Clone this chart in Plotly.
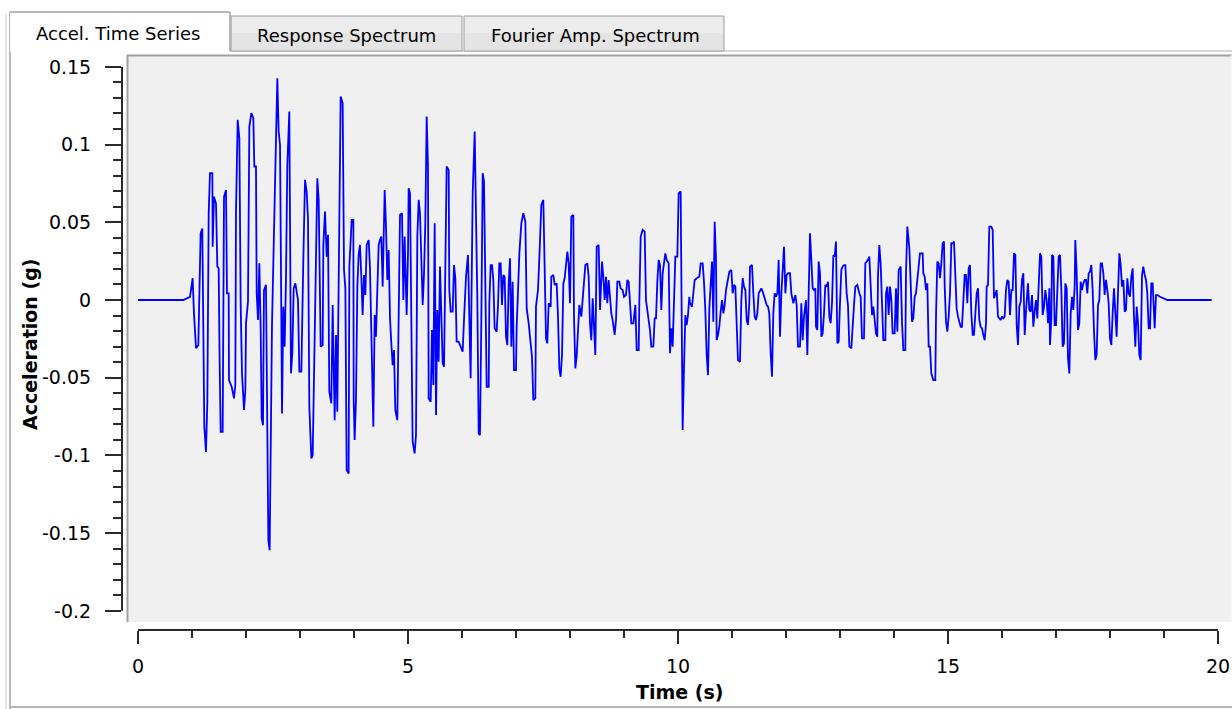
import plotly.graph_objects as go

# ---------------- data ----------------
t_seg1 = [0, 0.84, 0.963, 1.012, 1.037, 1.074, 1.117, 1.136, 1.160, 1.191,
          1.210, 1.228, 1.259, 1.284, 1.309, 1.333, 1.377, 1.383, 1.407, 1.444,
          1.469, 1.494, 1.512, 1.531, 1.568, 1.574, 1.593, 1.630, 1.648, 1.679,
          1.685, 1.735, 1.778, 1.802, 1.815, 1.846, 1.877, 1.901, 1.926, 1.963,
          1.988, 2.000, 2.037, 2.062, 2.099, 2.136, 2.154, 2.185, 2.198, 2.222,
          2.247, 2.272, 2.290, 2.315, 2.333, 2.370, 2.383, 2.414, 2.438, 2.457,
          2.481, 2.519, 2.556, 2.580, 2.605, 2.630, 2.654, 2.667, 2.691, 2.716,
          2.741, 2.765, 2.802, 2.815, 2.833, 2.858, 2.883, 2.914, 2.938, 2.963,
          2.988, 3.025, 3.062, 3.093, 3.123, 3.148, 3.173, 3.210, 3.235, 3.272,
          3.296, 3.321, 3.346, 3.383, 3.420, 3.432, 3.463, 3.494, 3.519, 3.543,
          3.580, 3.605, 3.642, 3.667, 3.691, 3.716, 3.728, 3.753, 3.790, 3.815,
          3.840, 3.864, 3.901, 3.914]
a_seg1 = [0, 0, 0.002, 0.014, -0.009, -0.031, -0.029, 0.0075, 0.043, 0.046,
          -0.011, -0.0815, -0.0977, -0.0655, 0.0558, 0.0816, 0.0816, 0.0343, 0.0665, 0.0622,
          0.0215, 0.0204, -0.0408, -0.0848, -0.0848, -0.0129, 0.0665, 0.0708, 0.0043, 0.0043,
          -0.0515, -0.0558, -0.0633, -0.0547, 0.0569, 0.1159, 0.1041, -0.0021, -0.0472, -0.0708,
          -0.058, -0.015, -0.001, 0.1116, 0.1202, 0.117, 0.0859, 0.0859, 0.0043, -0.0129,
          0.0236, -0.0193, -0.0762, -0.0805, 0.0064, 0.0097, -0.0365, -0.1545, -0.161, -0.0912,
          -0.0172, 0.0451, 0.0998, 0.1427, 0.1084, 0.0998, -0.0086, -0.073, -0.0043, -0.03,
          0.015, 0.0869, 0.1213, 0.0419, -0.0472, -0.0343, 0.0075, 0.0107, 0.0043, 0,
          -0.0461, -0.0461, 0.0268, 0.0773, 0.0698, 0.0526, -0.0687, -0.102, -0.0998, -0.0258,
          0.0182, 0.0783, 0.0644, -0.03, -0.029, 0.0354, 0.0569, 0.0279, 0.0419, -0.059,
          -0.0665, -0.0032, -0.0773, -0.0225, -0.0719, -0.0011, 0.0708, 0.1309, 0.1266, 0.0193,
          0.0075, -0.1095, -0.1116, 0.0215]

t_seg2 = [3.957, 3.988, 3.994, 4.012, 4.037, 4.062, 4.086, 4.111, 4.136, 4.160,
          4.185, 4.210, 4.235, 4.272, 4.296, 4.321, 4.358, 4.383, 4.407, 4.432,
          4.457, 4.481, 4.506, 4.531, 4.556, 4.568, 4.593, 4.617, 4.642, 4.667,
          4.691, 4.716, 4.741, 4.765, 4.802, 4.827, 4.852, 4.889, 4.914, 4.938,
          4.975, 5.000, 5.012, 5.037, 5.062, 5.086, 5.123, 5.148, 5.173, 5.198,
          5.222, 5.247, 5.272, 5.296, 5.321, 5.346, 5.370, 5.383, 5.420, 5.444,
          5.469, 5.494, 5.519, 5.543, 5.568, 5.593, 5.617, 5.642, 5.667, 5.691,
          5.716, 5.753, 5.765, 5.790, 5.827, 5.852, 5.877, 5.901, 5.938, 5.975,
          6.012, 6.037, 6.074, 6.111, 6.136, 6.160, 6.173, 6.198, 6.235, 6.259,
          6.284, 6.309, 6.333, 6.358, 6.383, 6.407, 6.432, 6.457, 6.494, 6.506,
          6.531, 6.556, 6.580, 6.605, 6.642, 6.667, 6.691, 6.716, 6.741, 6.765,
          6.790, 6.815, 6.840, 6.864, 6.889, 6.914, 6.938, 6.963, 7.000, 7.012,
          7.037, 7.062]
a_seg2 = [0.0515, 0.0515, -0.0644, -0.0901, -0.0633, 0.0086, 0.029, 0.0354, 0.015, -0.0097,
          0.0161, 0.0032, 0.0354, 0.0386, 0.0204, -0.0225, -0.0816, -0.0097, -0.0236, 0.0064,
          0.0354, 0.0386, 0.0408, 0.0086, 0.0408, 0.0708, 0.0472, 0.0129, 0.0322, -0.0118,
          -0.0279, -0.0419, -0.0322, -0.0708, -0.0773, 0.0129, 0.0547, 0.0558, 0, 0.0408,
          -0.0097, 0.03, 0.0719, 0.0687, -0.0043, -0.0912, -0.0987, -0.0869, 0.0408, 0.0644,
          0.0558, 0.0172, -0.0032, 0.0161, 0.0504, 0.118, 0.0859, -0.0633, -0.0655, -0.0193,
          -0.0547, 0.0494, -0.074, -0.0064, -0.0397, 0.0215, -0.0032, -0.0408, -0.0429, 0.044,
          0.0859, 0.0837, 0.0064, -0.0075, -0.0075, 0.0225, 0.014, -0.0268, -0.0268, -0.03,
          -0.0333, -0.0129, 0.015, 0.029, -0.0043, -0.0504, -0.0064, 0.0687, 0.1084, 0.0622,
          0, -0.0859, -0.0869, -0.0129, 0.0816, 0.0762, 0.0021, -0.0558, -0.0558, -0.0021,
          0.0225, 0.0225, 0.0129, -0.0182, -0.0204, -0.0032, 0.0236, 0.0236, -0.0032, 0.0161,
          0.015, -0.0236, -0.029, 0.0107, 0.0268, -0.03, 0.0118, -0.0451, -0.0451, -0.0172,
          0.0054, 0.03]

t_seg3 = [7.099, 7.136, 7.173, 7.198, 7.235, 7.259, 7.296, 7.321, 7.358, 7.370,
          7.407, 7.432, 7.469, 7.506, 7.531, 7.556, 7.580, 7.605, 7.642, 7.654,
          7.691, 7.716, 7.753, 7.778, 7.802, 7.827, 7.852, 7.877, 7.901, 7.951,
          7.975, 8.000, 8.025, 8.062, 8.074, 8.099, 8.123, 8.148, 8.173, 8.210,
          8.247, 8.284, 8.321, 8.346, 8.370, 8.395, 8.420, 8.444, 8.469, 8.494,
          8.531, 8.556, 8.593, 8.617, 8.642, 8.667, 8.691, 8.716, 8.741, 8.765,
          8.790, 8.827, 8.852, 8.877, 8.914, 8.938, 8.975, 9.000, 9.037, 9.062,
          9.086, 9.111, 9.136, 9.173, 9.210, 9.235, 9.272, 9.284, 9.309, 9.346,
          9.383, 9.407, 9.444, 9.481, 9.506, 9.543, 9.568, 9.593, 9.617, 9.642,
          9.667, 9.691, 9.716, 9.741, 9.765, 9.790, 9.827, 9.852, 9.877, 9.901,
          9.926, 9.951, 9.988, 10.012, 10.049, 10.074, 10.086, 10.111, 10.136, 10.160,
          10.185, 10.210]
a_seg3 = [0.0494, 0.0558, 0.0504, -0.0054, -0.015, -0.0236, -0.0365, -0.0644, -0.0633, -0.0043,
          0.0064, 0.0268, 0.0612, 0.0644, 0.0129, -0.0247, -0.0279, -0.0021, -0.0043, 0.015,
          0.0161, 0.0097, 0.0107, -0.0107, -0.044, -0.0494, -0.0354, 0.0107, 0.014, 0.0311,
          0.0236, -0.0021, 0.0537, 0.0547, -0.0107, -0.044, -0.0365, -0.0172, -0.0032, -0.0107,
          0.0043, 0.0225, 0.0236, 0.015, -0.015, -0.0258, 0.0011, -0.015, -0.0354, 0.0343,
          0.0354, -0.0064, 0.0247, 0.015, 0, 0.015, -0.0021, 0.0129, 0.0021, -0.0086,
          -0.0129, -0.0225, -0.0129, 0.0118, 0.0118, 0.0075, 0.0064, 0.0021, 0.0032, 0.0129,
          0.0118, -0.0032, -0.015, -0.015, -0.0032, -0.0322, -0.0322, -0.0011, 0.0408, 0.0451,
          0.044, 0, -0.0086, -0.0193, -0.03, -0.03, -0.0118, -0.0118, 0.0118, 0.0258,
          0.0225, -0.0064, 0.0172, 0.0258, 0.03, 0.0258, 0.0236, -0.0343, -0.0182, -0.03,
          -0.0021, 0.0279, 0.0279, 0.0687, 0.0698, -0.0343, -0.0837, -0.044, -0.0097, -0.0161,
          -0.0097, 0.0021]

t_seg4 = [10.222, 10.259, 10.284, 10.309, 10.346, 10.395, 10.420, 10.457, 10.481, 10.506,
          10.531, 10.556, 10.580, 10.605, 10.630, 10.654, 10.679, 10.704, 10.716, 10.741,
          10.765, 10.790, 10.815, 10.840, 10.864, 10.889, 10.926, 10.951, 10.988, 11.012,
          11.037, 11.062, 11.086, 11.111, 11.148, 11.173, 11.198, 11.222, 11.247, 11.272,
          11.296, 11.321, 11.333, 11.370, 11.395, 11.420, 11.444, 11.469, 11.494, 11.519,
          11.543, 11.568, 11.593, 11.617, 11.642, 11.667, 11.691, 11.716, 11.741, 11.765,
          11.790, 11.815, 11.840, 11.864, 11.889, 11.914, 11.938, 11.963, 11.988, 12.012,
          12.037, 12.074, 12.099, 12.136, 12.173, 12.198, 12.222, 12.259, 12.284, 12.309,
          12.333, 12.370, 12.395, 12.420, 12.444, 12.469, 12.494, 12.519, 12.543, 12.556,
          12.580, 12.605, 12.630, 12.654, 12.679, 12.704, 12.728, 12.753, 12.778, 12.802,
          12.827, 12.852, 12.877, 12.901, 12.926, 12.951, 12.975, 13.000, 13.025, 13.049,
          13.074, 13.099, 13.123, 13.148, 13.173, 13.210, 13.235, 13.259, 13.284, 13.321,
          13.358]
a_seg4 = [-0.0021, -0.0043, 0.0043, 0.0129, 0.014, 0.015, 0.0236, 0.0236, 0.0118, -0.0064,
          -0.0354, -0.0483, -0.0054, 0.015, 0.0247, -0.014, 0.0504, 0.0258, -0.0258, -0.0225,
          -0.0172, -0.0075, 0, -0.0086, -0.0032, 0.0064, 0.015, 0.0182, 0.0193, 0.0043,
          0.0097, 0.0086, -0.015, -0.0386, -0.0397, 0, 0.014, 0.0086, 0.0064, -0.0129,
          -0.0161, -0.0021, 0.0215, 0.0225, 0.0043, -0.0107, -0.0129, -0.0086, 0.0043, 0.0064,
          0.0075, 0.0054, 0.0021, 0, -0.0032, -0.0043, -0.0086, -0.0343, -0.0494, -0.0086,
          0.0043, 0.0021, 0.0043, 0.0258, -0.0236, 0.0043, 0.0236, 0.0343, 0.0043, 0.0161,
          0.0172, 0.0172, 0.0043, -0.0021, 0.0032, -0.0032, -0.03, -0.03, -0.0021, -0.0258,
          -0.0107, 0, -0.0354, 0.0064, 0.0429, 0.0258, 0.0075, 0.0064, 0.0075, -0.0172,
          -0.0193, 0.0247, 0.0172, -0.0236, -0.0215, -0.0086, 0.0097, 0.0086, 0.0118, -0.0107,
          -0.015, -0.0021, 0.029, 0.0279, 0.0376, -0.0279, -0.0268, -0.0021, 0.0193, 0.0215,
          0.0225, 0.0225, 0.0043, -0.0032, -0.03, -0.0311, -0.014, -0.0032, 0.0086, 0.0097,
          0.0043]

t_seg5 = [13.383, 13.407, 13.444, 13.469, 13.494, 13.519, 13.543, 13.568, 13.593, 13.617,
          13.642, 13.667, 13.691, 13.704, 13.728, 13.753, 13.778, 13.802, 13.840, 13.852,
          13.877, 13.901, 13.926, 13.951, 13.975, 14.012, 14.037, 14.062, 14.086, 14.123,
          14.148, 14.173, 14.210, 14.222, 14.247, 14.284, 14.309, 14.333, 14.358, 14.383,
          14.407, 14.444, 14.481, 14.531, 14.543, 14.568, 14.593, 14.617, 14.642, 14.667,
          14.691, 14.728, 14.765, 14.778, 14.802, 14.827, 14.852, 14.877, 14.901, 14.926,
          14.938, 14.963, 14.988, 15.012, 15.037, 15.062, 15.086, 15.111, 15.136, 15.160,
          15.185, 15.210, 15.235, 15.259, 15.284, 15.309, 15.333, 15.358, 15.383, 15.407,
          15.432, 15.457, 15.481, 15.506, 15.531, 15.556, 15.580, 15.605, 15.630, 15.654,
          15.679, 15.704, 15.716, 15.741, 15.765, 15.802, 15.827, 15.852, 15.877, 15.901,
          15.926, 15.951, 15.975, 16.000, 16.025, 16.049, 16.074, 16.099, 16.123, 16.148,
          16.173, 16.198, 16.222, 16.247, 16.272, 16.296, 16.321, 16.346, 16.370, 16.395,
          16.420, 16.444, 16.481, 16.506]
a_seg5 = [0.0021, -0.0247, -0.0247, 0.0236, 0.0247, 0.0258, 0.0279, 0.0129, -0.0097, -0.0043,
          -0.014, -0.0215, -0.0236, 0.0161, 0.0354, 0.0236, -0.0021, -0.0258, -0.0258, 0.0043,
          0.0086, -0.0097, 0.0086, 0, -0.0215, -0.0215, 0.0075, -0.0204, 0.0193, 0.0215,
          -0.014, -0.0322, -0.0322, 0.0172, 0.0472, 0.0333, 0.0107, -0.014, -0.0118, 0.0021,
          0.0043, 0.0172, 0.03, 0.03, 0.0172, 0.015, 0.0064, 0.0107, -0.03, -0.03,
          -0.0472, -0.0515, -0.0515, -0.0107, 0.0247, 0.0236, 0.014, 0.0236, 0.0365, 0.0376,
          0.0097, -0.014, -0.0204, -0.0107, 0.0043, 0.0365, 0.0365, 0.0376, 0.0172, -0.0054,
          -0.0107, -0.015, -0.0172, -0.0172, 0.0021, 0.0161, 0.0161, -0.0021, 0.0204, 0.0225,
          -0.0086, -0.0225, -0.0225, -0.0097, 0.0043, 0.0075, -0.0129, -0.0172, -0.0182, -0.0225,
          -0.0258, -0.015, 0.0086, 0.0097, 0.0472, 0.0472, 0.0451, 0.0011, 0.0043, 0.0064,
          -0.0107, -0.0118, -0.0129, -0.0107, -0.0118, -0.0107, 0.0064, 0.0129, 0.0118, -0.0097,
          0.0064, 0.0064, 0.03, 0.029, -0.0161, -0.029, -0.0043, -0.0011, 0.0129, 0.0172,
          -0.0225, -0.0075, 0.0107, -0.0064]

t_seg6 = [16.531, 16.556, 16.580, 16.605, 16.630, 16.654, 16.679, 16.704, 16.728, 16.753,
          16.778, 16.802, 16.827, 16.852, 16.877, 16.889, 16.914, 16.926, 16.951, 16.975,
          17.000, 17.025, 17.049, 17.074, 17.099, 17.123, 17.148, 17.173, 17.198, 17.222,
          17.247, 17.272, 17.296, 17.321, 17.346, 17.358, 17.383, 17.407, 17.432, 17.457,
          17.481, 17.506, 17.531, 17.556, 17.580, 17.605, 17.630, 17.654, 17.679, 17.704,
          17.728, 17.753, 17.778, 17.802, 17.827, 17.852, 17.877, 17.901, 17.926, 17.951,
          17.975, 18.000, 18.025, 18.049, 18.074, 18.099, 18.123, 18.148, 18.173, 18.198,
          18.222, 18.247, 18.272, 18.296, 18.321, 18.346, 18.370, 18.395, 18.420, 18.444,
          18.469, 18.494, 18.519, 18.543, 18.568, 18.593, 18.617, 18.642, 18.667, 18.691,
          18.716, 18.741, 18.765, 18.790, 18.827, 18.852, 18.877, 18.926, 18.988, 19.062,
          19.883]
a_seg6 = [-0.0075, 0.0032, -0.0172, -0.0075, 0, -0.0118, 0.0161, 0.03, 0.0279, -0.0097,
          -0.0043, 0.0064, 0, -0.015, 0.0075, -0.029, -0.0118, 0.029, 0.0279, -0.0161,
          -0.0161, 0.0043, 0.0279, 0.029, 0.0064, -0.03, -0.0279, 0.0107, 0.0075, -0.0376,
          -0.0472, -0.0086, 0.0021, -0.0064, 0.0086, 0.0386, 0.0172, -0.0193, -0.015, 0.0118,
          0.0064, 0.0107, 0.0129, 0.0129, 0.0043, 0.0172, 0.0182, 0.0225, 0.0064, -0.0204,
          -0.0386, -0.0354, -0.0032, 0, 0.0236, 0.0236, 0.0172, 0.0032, 0.0129, 0.0064,
          -0.0021, -0.0247, -0.029, -0.0086, 0.0075, -0.0086, -0.0236, 0.0043, 0.03, 0.0225,
          0.0086, 0.0129, -0.0075, -0.0064, 0.014, 0.0043, 0.0021, 0.015, 0.0204, -0.0107,
          -0.03, -0.0043, -0.015, -0.0354, -0.0386, 0.0161, 0.0215, 0.0161, 0.0129, 0.0043,
          -0.0182, -0.0182, 0.0107, 0.0107, -0.0182, 0.0032, 0.0032, 0.0021, 0.0011, 0,
          0]

x_tick_vals = [0, 5, 10, 15, 20]
x_tick_text = ["0", "5", "10", "15", "20"]
y_tick_vals = [0.15, 0.1, 0.05, 0, -0.05, -0.1, -0.15, -0.2]
y_tick_text = ["0.15", "0.1", "0.05", "0", "-0.05", "-0.1", "-0.15", "-0.2"]
tab_labels = ["Accel. Time Series", "Response Spectrum", "Fourier Amp. Spectrum"]
x_title = "Time (s)"
y_title = "Acceleration (g)"

# ---------------- assemble series ----------------
time_s, accel_g = [], []
for ts, ac in [(t_seg1, a_seg1), (t_seg2, a_seg2), (t_seg3, a_seg3),
               (t_seg4, a_seg4), (t_seg5, a_seg5), (t_seg6, a_seg6)]:
    n = min(len(ts), len(ac))
    time_s += ts[:n]
    accel_g += ac[:n]

# ---------------- layout geometry (pixels) ----------------
W, H = 1232, 709
L, R, T, B = 122, 1232, 52, 630          # plot area edges
X0, XS = 138.0, 54.0                      # pixel of t=0, px per second
Y0, YS = 300.0, 1554.3                    # pixel of a=0, px per g

x_range = [(L - X0) / XS, (R - X0) / XS]
y_range = [(Y0 - B) / YS, (Y0 - T) / YS]


def px(x):
    return (x - L) / (R - L)


def py(y):
    return (B - y) / (B - T)


FONT = "DejaVu Sans"
AXC = "#2a2a2a"
GREY = "#a0a0a0"

shapes = []


def rect(x0, y0, x1, y1, fill, lc=None, lw=0, layer="below"):
    shapes.append(dict(type="rect", xref="paper", yref="paper",
                       x0=px(x0), x1=px(x1), y0=py(y1), y1=py(y0),
                       fillcolor=fill, layer=layer,
                       line=dict(color=lc or fill, width=lw)))


def seg(x0, y0, x1, y1, color, width=1, layer="below"):
    shapes.append(dict(type="line", xref="paper", yref="paper",
                       x0=px(x0), x1=px(x1), y0=py(y0), y1=py(y1),
                       layer=layer, line=dict(color=color, width=width)))


# plot box
rect(127, 55, 1232, 622, "#f0f0f0")
seg(127.5, 55, 127.5, 622, GREY, 2)
seg(127, 55.5, 1232, 55.5, GREY, 2)
seg(1231, 55, 1231, 622, "#fafafa", 1)
# panel border
seg(230, 51, 1232, 51, "#b4b4b8", 1)
seg(6, 14, 6, 709, "#c8c8cc", 1)
seg(10, 12, 10, 709, GREY, 1.5)
seg(10, 707, 1232, 707, "#b4b4b8", 2)
# tabs
rect(10, 12, 230, 52, "#ffffff")
seg(10, 12, 230, 12, GREY, 1.5)
seg(230, 12, 230, 51, GREY, 1.5)
rect(231, 16, 462, 51, "#e4e4e4", GREY, 1)
rect(232, 17, 461, 33, "#ececec")
rect(464, 16, 724, 51, "#e4e4e4", GREY, 1)
rect(465, 17, 723, 33, "#ececec")
# axis rulers
seg(L, Y0 - 0.15 * YS, L, Y0 + 0.2 * YS, AXC, 2, "above")
seg(X0, B, X0 + 20 * XS, B, AXC, 2, "above")

annotations = []
for lbl, cx, cy in zip(tab_labels, [118, 346, 595], [33, 35, 35]):
    annotations.append(dict(text=lbl, x=px(cx), y=py(cy), xref="paper", yref="paper",
                            showarrow=False, xanchor="center", yanchor="middle",
                            font=dict(family=FONT, size=18, color="#000000")))
annotations.append(dict(text="<b>" + x_title + "</b>", x=px(679), y=py(692),
                        xref="paper", yref="paper", showarrow=False,
                        xanchor="center", yanchor="middle",
                        font=dict(family=FONT, size=19, color="#000000")))
annotations.append(dict(text="<b>" + y_title + "</b>", x=px(30), y=py(345),
                        xref="paper", yref="paper", showarrow=False, textangle=-90,
                        xanchor="center", yanchor="middle",
                        font=dict(family=FONT, size=19, color="#000000")))

x_minor = [v for v in range(0, 21) if v % 5 != 0]
y_minor = [round(-0.2 + 0.01 * k, 2) for k in range(0, 36)]
y_minor = [v for v in y_minor if abs(round(v / 0.05) * 0.05 - v) > 1e-6]

fig = go.Figure()
fig.add_trace(go.Scatter(x=time_s, y=accel_g, mode="lines",
                         line=dict(color="#0000ff", width=1.8),
                         hoverinfo="skip", showlegend=False))

fig.update_layout(
    width=W, height=H, autosize=False,
    margin=dict(l=L, r=W - R, t=T, b=H - B, pad=0, autoexpand=False),
    paper_bgcolor="#ffffff", plot_bgcolor="rgba(0,0,0,0)",
    shapes=shapes, annotations=annotations, showlegend=False,
    xaxis=dict(range=x_range, tickmode="array", tickvals=x_tick_vals, ticktext=x_tick_text,
               ticks="outside", ticklen=13, tickwidth=2, tickcolor=AXC,
               ticklabelstandoff=6,
               showline=False, showgrid=False, zeroline=False, fixedrange=True,
               tickfont=dict(family=FONT, size=19, color="#000000"),
               minor=dict(tickmode="array", tickvals=x_minor, ticks="outside",
                          ticklen=7, tickwidth=2, tickcolor=AXC, showgrid=False)),
    yaxis=dict(range=y_range, tickmode="array", tickvals=y_tick_vals, ticktext=y_tick_text,
               ticks="outside", ticklen=16, tickwidth=2, tickcolor=AXC,
               ticklabelstandoff=10,
               showline=False, showgrid=False, zeroline=False, fixedrange=True,
               tickfont=dict(family=FONT, size=19, color="#000000"),
               minor=dict(tickmode="array", tickvals=y_minor, ticks="outside",
                          ticklen=8, tickwidth=2, tickcolor=AXC, showgrid=False)),
)

fig.write_html("out.html", config={"displayModeBar": False},
               post_script="document.body.style.margin='0px';document.body.style.overflow='hidden';")
